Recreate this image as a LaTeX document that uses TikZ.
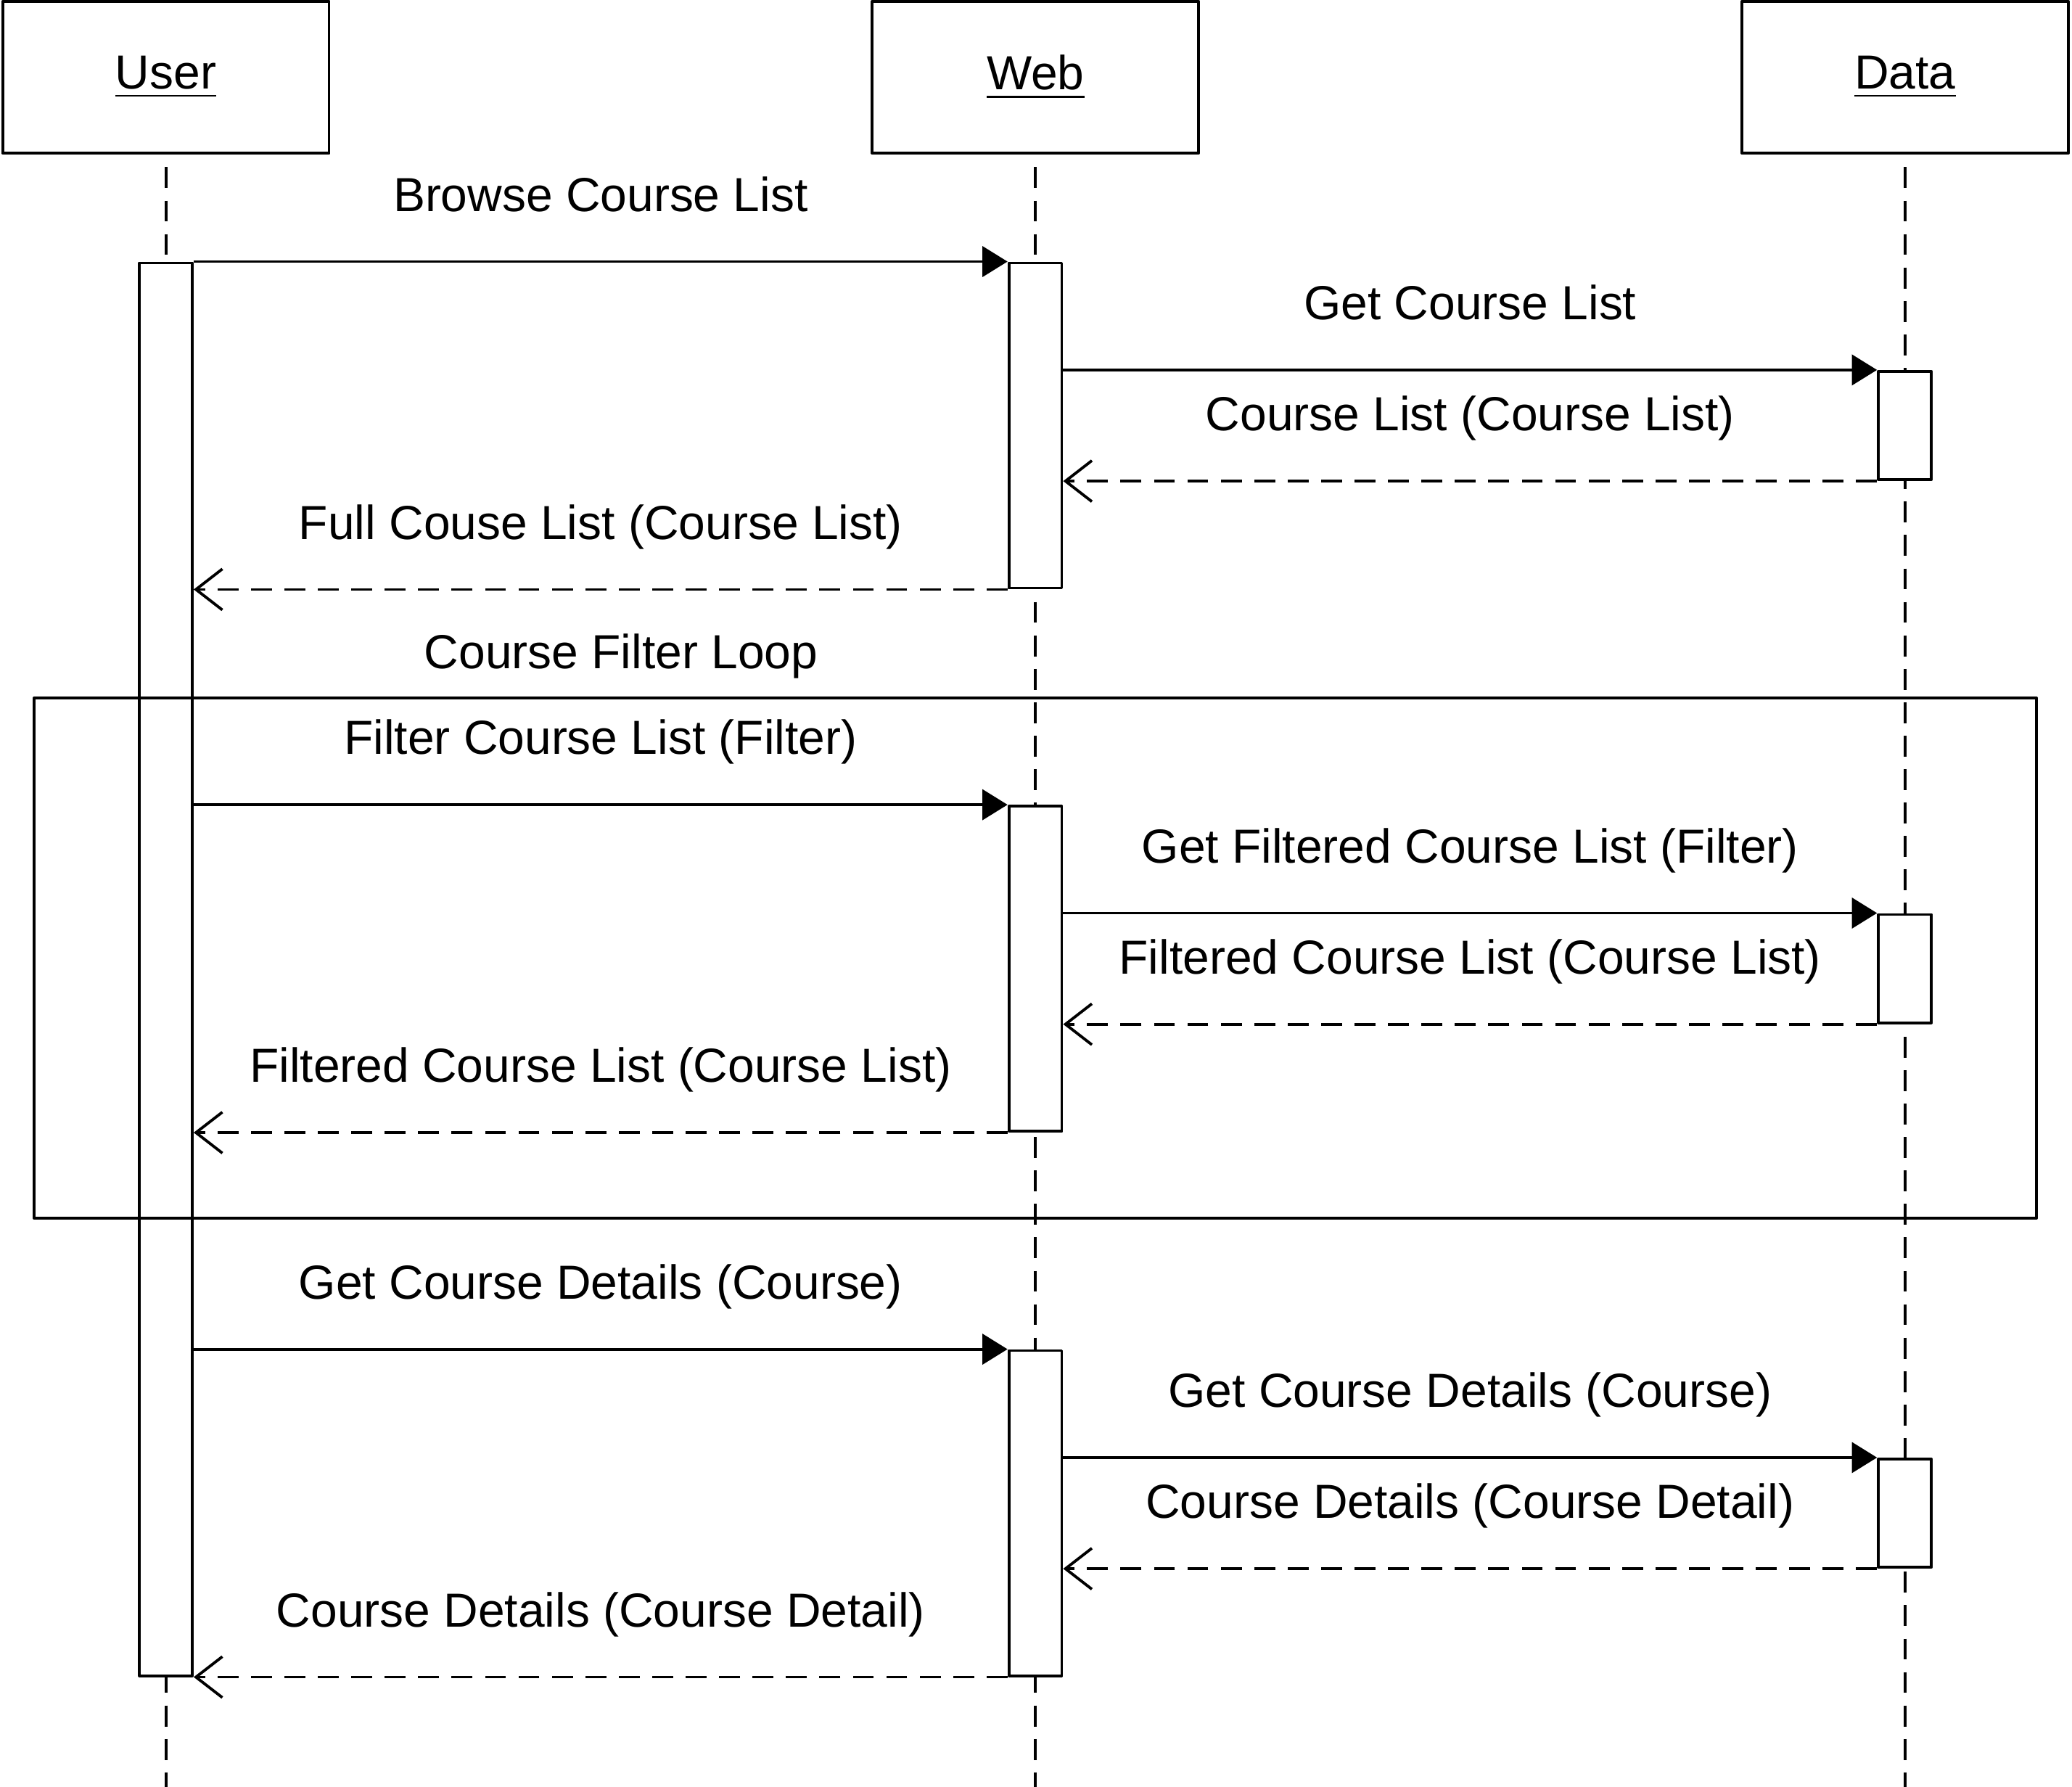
\documentclass[tikz,border=0pt]{standalone}
\usepackage{fontspec}
\setmainfont{Liberation Sans}
\usetikzlibrary{positioning,arrows.meta}

\tikzset{
  lbl/.style={font=\fontsize{10.3pt}{12pt}\selectfont},
  head/.style={lbl, draw, minimum width=2.47cm, minimum height=1.15cm},
  act/.style={draw, fill=white, minimum width=0.4cm, inner sep=0pt},
  life/.style={dash pattern=on 4.5pt off 2.7pt, dash phase=4.5pt},
  call/.style={-{Triangle[length=0.19cm,width=0.23cm]}},
  ret/.style={dash pattern=on 4.5pt off 2.7pt, -{Straight Barb[length=0.2cm,width=0.31cm]}},
  msg/.style={lbl, anchor=base, yshift=0.38cm},
}

\begin{document}
\begin{tikzpicture}[line width=0.6pt, line join=round]
        \useasboundingbox (0,0) rectangle (15.68,-13.52);
        \coordinate (bottom) at (0,-13.52);
        % lifeline heads
        \node[head](user) at (1.255,-0.585){\underline{User}};
        \node[head, right=4.09cm of user](web){\underline{Web}};
        \node[head, right=4.09cm of web](data){\underline{Data}};
        \draw[life]
        (user.south) -- (user.south |- bottom)
        (web.south) -- (web.south |- bottom)
        (data.south) -- (data.south |- bottom)
        ;
        % activations
        \node[act, minimum height=10.69cm](ua) at (1.255,-7.335){};
        \node[act, minimum height=2.46cm](w1) at (7.835,-3.22){};
        \node[act, minimum height=2.46cm](w2) at (7.835,-7.33){};
        \node[act, minimum height=2.46cm](w3) at (7.835,-11.45){};
        \node[act, minimum height=0.82cm](d1) at (14.415,-3.22){};
        \node[act, minimum height=0.82cm](d2) at (14.415,-7.33){};
        \node[act, minimum height=0.82cm](d3) at (14.415,-11.45){};
        % messages
        \draw
        (ua.east |- w1.north) edge[call] node[msg]{Browse Course List} (w1.north west)
        (w1.east |- d1.north) edge[call] node[msg]{Get Course List} (d1.north west)
        (d1.south west) edge[ret] node[msg]{Course List (Course List)} (w1.east |- d1.south)
        (w1.south west) edge[ret] node[msg]{Full Couse List (Course List)} (ua.east |- w1.south)
        (ua.east |- w2.north) edge[call] node[msg]{Filter Course List (Filter)} (w2.north west)
        (w2.east |- d2.north) edge[call] node[msg]{Get Filtered Course List (Filter)} (d2.north west)
        (d2.south west) edge[ret] node[msg]{Filtered Course List (Course List)} (w2.east |- d2.south)
        (w2.south west) edge[ret] node[msg]{Filtered Course List (Course List)} (ua.east |- w2.south)
        (ua.east |- w3.north) edge[call] node[msg]{Get Course Details (Course)} (w3.north west)
        (w3.east |- d3.north) edge[call] node[msg]{Get Course Details (Course)} (d3.north west)
        (d3.south west) edge[ret] node[msg]{Course Details (Course Detail)} (w3.east |- d3.south)
        (w3.south west) edge[ret] node[msg]{Course Details (Course Detail)} (ua.east |- w3.south)
        ;
        % loop frame
        \node[draw, minimum width=15.15cm, minimum height=3.94cm, inner sep=0pt](loop) at (7.835,-7.25){};
        \node[lbl, anchor=base](looptitle) at (4.70,-5.06){Course Filter Loop};
    \end{tikzpicture}
\end{document}
